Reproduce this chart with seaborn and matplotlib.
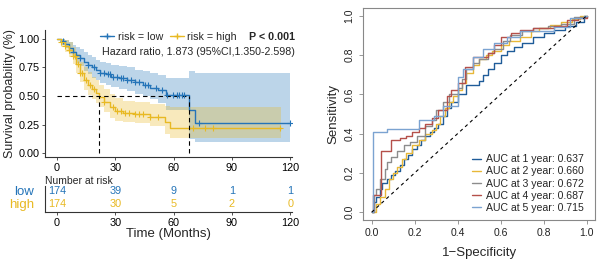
import numpy as np
import matplotlib
matplotlib.use('Agg')
import matplotlib.pyplot as plt
from matplotlib.lines import Line2D
import seaborn as sns

# ---- Kaplan-Meier: risk = low ----
low_t = [0, 2, 4, 6, 8, 10, 12, 14, 16, 18, 20, 22, 25, 28, 32, 36, 40, 44, 48, 52, 56, 68, 71, 120]
low_s = [1.0, .98, .955, .92, .89, .86, .83, .80, .77, .75, .73, .70, .69, .67, .655, .64, .62, .60, .57, .55, .51, .38, .26, .26]
low_hi = [1.0, 1.0, .99, .97, .95, .93, .91, .89, .86, .84, .82, .80, .79, .77, .76, .75, .73, .72, .70, .68, .66, .72, .70, .70]
low_lo = [1.0, .95, .92, .87, .83, .79, .76, .72, .69, .66, .64, .61, .60, .58, .56, .54, .52, .50, .47, .44, .38, .12, .10, .10]
low_cens = [3, 8, 12, 16, 19, 22, 24, 26, 27, 29, 31, 33, 34, 36, 38, 40, 42, 45, 47, 51,
            54, 56.6, 59.7, 61.8, 63, 64.4, 65.4, 73, 120]

# ---- Kaplan-Meier: risk = high ----
high_t = [0, 2, 4, 6, 8, 10, 12, 14, 16, 18, 20, 21.5, 24, 27, 30, 34, 40, 48, 55.6, 58, 115]
high_s = [1.0, .97, .94, .90, .85, .78, .70, .64, .60, .56, .53, .49, .45, .40, .37, .355, .34, .32, .275, .22, .22]
high_hi = [1.0, 1.0, .99, .97, .93, .87, .80, .75, .71, .67, .64, .60, .56, .52, .48, .46, .45, .43, .41, .40, .40]
high_lo = [1.0, .93, .89, .84, .78, .70, .62, .55, .51, .47, .44, .40, .36, .31, .28, .27, .26, .24, .17, .13, .13]
high_cens = [2, 4, 6, 8, 9, 11, 12, 13, 15, 17, 19, 24, 29, 31, 33, 35, 37, 40, 42, 44, 48, 52,
             70, 76, 80.5, 114.5]

# ---- number at risk ----
risk_times = [0, 30, 60, 90, 120]
risk_low = [174, 39, 9, 1, 1]
risk_high = [174, 30, 5, 2, 0]

# ---- time-dependent ROC ----
roc_labels = ['AUC at 1 year: 0.637', 'AUC at 2 year: 0.660', 'AUC at 3 year: 0.672',
              'AUC at 4 year: 0.687', 'AUC at 5 year: 0.715']
fpr1 = [0, .01, .02, .04, .05, .07, .09, .11, .13, .15, .17, .19, .21, .23, .25, .27, .29, .31, .33,
        .35, .37, .40, .44, .50, .52, .54, .57, .60, .63, .66, .70, .75, .80, .85, .90, .95, .99, 1.0]
tpr1 = [0, .05, .08, .12, .15, .17, .19, .21, .24, .27, .29, .32, .34, .37, .39, .41, .43, .45, .49,
        .53, .56, .60, .65, .67, .70, .73, .76, .80, .82, .84, .86, .89, .91, .93, .95, .97, 1.0, 1.0]
fpr2 = [0, .02, .04, .06, .08, .10, .12, .14, .16, .19, .22, .25, .28, .30, .32, .34, .36, .38, .40,
        .42, .44, .47, .50, .53, .56, .60, .64, .69, .74, .78, .83, .88, .93, .97, 1.0]
tpr2 = [0, .04, .08, .12, .17, .20, .23, .27, .30, .34, .37, .40, .42, .45, .49, .53, .56, .59, .62,
        .66, .71, .75, .78, .80, .82, .85, .87, .89, .92, .94, .955, .97, .985, 1.0, 1.0]
fpr3 = [0, .01, .02, .04, .06, .07, .09, .12, .15, .18, .21, .25, .28, .30, .33, .36, .40, .42, .44,
        .47, .50, .54, .57, .61, .645, .70, .75, .82, .88, .94, 1.0]
tpr3 = [0, .09, .12, .17, .22, .255, .28, .31, .34, .36, .39, .44, .47, .52, .56, .60, .63, .68, .73,
        .76, .78, .81, .83, .87, .90, .92, .94, .95, .96, .995, 1.0]
fpr4 = [0, .005, .045, .09, .13, .16, .19, .22, .25, .28, .31, .35, .37, .40, .435, .47, .54, .57,
        .60, .65, .69, .75, .85, .91, .96, 1.0]
tpr4 = [0, .09, .31, .37, .38, .39, .41, .43, .45, .48, .52, .59, .62, .66, .74, .79, .81, .85,
        .89, .91, .93, .94, .95, .98, .99, 1.0]
fpr5 = [0, .005, .07, .22, .29, .33, .36, .40, .425, .47, .52, .57, .63, .69, .75, .85, .925, .99, 1.0]
tpr5 = [0, .41, .426, .47, .49, .54, .54, .686, .73, .79, .83, .86, .89, .92, .92, .945, .99, 1.0, 1.0]

blue = '#2474B8'
gold = '#E8B923'
roc_colors = ['#1F5C99', '#E8B838', '#8C8C8C', '#B5504A', '#7BA3D1']

sns.set_style('ticks')
plt.rcParams['font.family'] = ['Liberation Sans', 'DejaVu Sans']

fig = plt.figure(figsize=(6, 2.63), dpi=100)
ax = fig.add_axes([0.075, 0.403, 0.412, 0.483])
ax_tab = fig.add_axes([0.075, 0.194, 0.412, 0.099])
ax_roc = fig.add_axes([0.605, 0.163, 0.387, 0.807])

# KM curves: low first, high on top (its band tints the low line)
groups = [(low_t, low_s, low_lo, low_hi, low_cens, blue),
          (high_t, high_s, high_lo, high_hi, high_cens, gold)]
for t, s, lo, hi, cens, col in groups:
    ax.fill_between(t, lo, hi, step='post', color=col, alpha=0.3, lw=0)
    sns.lineplot(x=t, y=s, drawstyle='steps-post', estimator=None, sort=False,
                 color=col, lw=1.0, ax=ax)
    idx = np.searchsorted(t, cens, side='right') - 1
    sns.scatterplot(x=cens, y=np.array(s)[idx], marker='+', s=22, color=col,
                    linewidth=0.8, ax=ax, zorder=3)

# median survival lines
med_low = low_t[int(np.argmax(np.array(low_s) <= 0.5))]
med_high = high_t[int(np.argmax(np.array(high_s) <= 0.5))]
dash = dict(color='black', lw=0.8, ls=(0, (4, 3)))
ax.plot([0, med_low], [0.5, 0.5], **dash)
ax.plot([med_high, med_high], [0, 0.5], **dash)
ax.plot([med_low, med_low], [0, 0.5], **dash)

ax.set_xlim(-6.2, 121)
ax.set_ylim(-0.035, 1.079)
ax.set_xticks(risk_times)
ax.set_yticks([0, .25, .5, .75, 1.0])
ax.set_yticklabels(['0.00', '0.25', '0.50', '0.75', '1.00'])
ax.set_xlabel('')
ax.set_ylabel('Survival probability (%)', fontsize=9, labelpad=2)
sns.despine(ax=ax)
for a in (ax, ax_tab):
    for sp in a.spines.values():
        sp.set_color('#333333')
        sp.set_linewidth(0.8)
ax.tick_params(labelsize=7.8, length=2.5, width=0.6, pad=1.5, colors='#333333', labelcolor='black')

handles = [Line2D([], [], color=blue, lw=1, marker='+', ms=5),
           Line2D([], [], color=gold, lw=1, marker='+', ms=5)]
fig.legend(handles, ['risk = low', 'risk = high'], loc='center left',
           bbox_to_anchor=(0.155, 0.859), ncol=2, frameon=False, fontsize=7.7,
           handlelength=1.3, handletextpad=0.3, columnspacing=0.7, borderpad=0.2)
fig.text(0.492, 0.859, 'P < 0.001', ha='right', va='center', fontsize=7.7, weight='bold')
fig.text(0.492, 0.802, 'Hazard ratio, 1.873 (95%CI,1.350-2.598)', ha='right',
         va='center', fontsize=7.7)

# number-at-risk table
for ypos, vals, col in [(1, risk_low, blue), (0, risk_high, gold)]:
    for tt, v in zip(risk_times, vals):
        ax_tab.text(tt, ypos, str(v), color=col, ha='center', va='center', fontsize=7.8)
ax_tab.set_xlim(-6.2, 121)
ax_tab.set_ylim(-0.62, 1.38)
ax_tab.set_xticks(risk_times)
ax_tab.set_yticks([1, 0])
ax_tab.set_yticklabels(['low', 'high'], fontsize=9.5)
for lab, col in zip(ax_tab.get_yticklabels(), [blue, gold]):
    lab.set_color(col)
ax_tab.tick_params(axis='y', length=0, pad=8)
ax_tab.tick_params(axis='x', labelsize=7.8, length=2.5, width=0.6, pad=1.5, colors='#333333',
                   labelcolor='black')
sns.despine(ax=ax_tab)
ax_tab.set_title('Number at risk', loc='left', fontsize=7.5, pad=1.5)
ax_tab.set_xlabel('Time (Months)', fontsize=9.5, labelpad=0)

# ROC curves
rocs = [(fpr1, tpr1), (fpr2, tpr2), (fpr3, tpr3), (fpr4, tpr4), (fpr5, tpr5)]
for (fx, ty), col, lab in zip(rocs, roc_colors, roc_labels):
    sns.lineplot(x=fx, y=ty, drawstyle='steps-post', estimator=None, sort=False,
                 color=col, lw=1.0, label=lab, ax=ax_roc)
ax_roc.plot([0, 1], [0, 1], color='black', lw=0.8, ls=(0, (3, 3)))
ax_roc.set_xlim(-0.04, 1.04)
ax_roc.set_ylim(-0.04, 1.04)
ticks = [0, .2, .4, .6, .8, 1.0]
ax_roc.set_xticks(ticks)
ax_roc.set_yticks(ticks)
ax_roc.set_xticklabels([f'{v:.1f}' for v in ticks])
ax_roc.set_yticklabels([f'{v:.1f}' for v in ticks], rotation=90, va='center')
for sp in ax_roc.spines.values():
    sp.set_visible(True)
    sp.set_color('#888888')
    sp.set_linewidth(0.8)
ax_roc.tick_params(labelsize=7.5, length=3, width=0.6, colors='#888888', labelcolor='#222222', pad=3)
ax_roc.set_xlabel('1\u2212Specificity', fontsize=9.5, labelpad=6)
ax_roc.set_ylabel('Sensitivity', fontsize=9.5, labelpad=4)
ax_roc.legend(loc='lower right', frameon=False, fontsize=7.6, handlelength=0.9,
              handletextpad=0.5, labelspacing=0.2, borderaxespad=0.3,
              bbox_to_anchor=(0.985, 0.0))

fig.savefig('out.png', dpi=100)
